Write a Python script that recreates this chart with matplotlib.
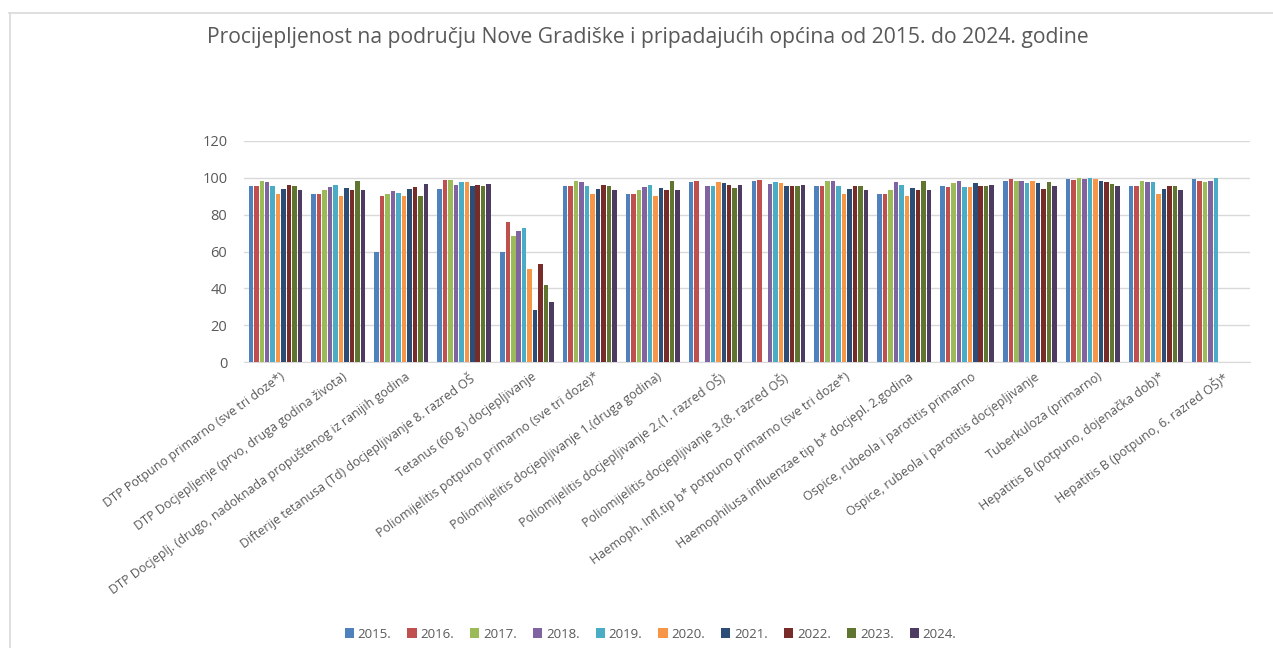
import numpy as np
import matplotlib.pyplot as plt
from matplotlib.lines import Line2D

plt.rcParams['font.family'] = ['Open Sans', 'DejaVu Sans']

title = "Procijepljenost na području Nove Gradiške i pripadajućih općina od 2015. do 2024. godine"

categories = [
    "DTP Potpuno primarno (sve tri doze*)",
    "DTP Docjepljenje (prvo, druga godina života)",
    "DTP Docjeplj. (drugo, nadoknada propuštenog iz ranijih godina",
    "Difterije tetanusa (Td) docjepljivanje 8. razred OŠ",
    "Tetanus (60 g.) docjepljivanje",
    "Poliomijelitis potpuno primarno (sve tri doze)*",
    "Poliomijelitis docjepljivanje 1.(druga godina)",
    "Poliomijelitis docjepljivanje 2.(1. razred OŠ)",
    "Poliomijelitis docjepljivanje 3.(8. razred OŠ)",
    "Haemoph. Infl.tip b* potpuno primarno (sve tri doze*)",
    "Haemophilusa influenzae tip b* docjepl. 2.godina",
    "Ospice, rubeola i parotitis primarno",
    "Ospice, rubeola i parotitis docjepljivanje",
    "Tuberkuloza (primarno)",
    "Hepatitis B (potpuno, dojenačka dob)*",
    "Hepatitis B (potpuno, 6. razred OŠ)*",
]

years = ["2015.", "2016.", "2017.", "2018.", "2019.",
         "2020.", "2021.", "2022.", "2023.", "2024."]

nan = np.nan
# one list per category, values for 2015..2024
v_dtp_prim = [95.3, 95.3, 98.4, 97.5, 95.3, 91.2, 94.1, 95.9, 95.3, 93.2]
v_dtp_doc1 = [91.2, 91.2, 93.5, 95.0, 96.0, 90.1, 94.6, 93.5, 98.4, 93.2]
v_dtp_doc2 = [59.8, 90.1, 91.2, 92.8, 91.5, 90.1, 93.9, 95.0, 90.3, 96.8]
v_td = [94.2, 98.7, 98.7, 96.0, 97.5, 97.5, 95.7, 96.0, 95.3, 96.4]
v_tetanus = [59.8, 75.9, 68.3, 71.4, 72.6, 50.3, 28.5, 53.2, 42.0, 32.6]
v_polio_prim = [95.3, 95.3, 98.4, 97.5, 95.3, 91.2, 94.1, 95.9, 95.3, 93.2]
v_polio_doc1 = [91.2, 91.2, 93.5, 95.0, 96.0, 90.1, 94.6, 93.5, 98.4, 93.2]
v_polio_doc2 = [97.5, 98.4, nan, 95.7, 95.7, 97.5, 97.1, 96.0, 94.6, 96.0]
v_polio_doc3 = [98.4, 98.9, nan, 96.4, 97.5, 97.1, 95.7, 95.7, 95.3, 96.0]
v_hib_prim = [95.3, 95.3, 98.4, 98.4, 95.3, 91.2, 93.9, 95.7, 95.3, 93.2]
v_hib_doc = [91.2, 91.2, 93.5, 97.5, 96.0, 90.1, 94.6, 93.5, 98.4, 93.2]
v_mrp_prim = [95.3, 94.8, 97.1, 98.4, 94.8, 94.8, 97.1, 95.7, 95.3, 96.0]
v_mrp_doc = [98.2, 99.1, 98.2, 98.4, 97.1, 98.4, 97.1, 93.9, 97.5, 95.7]
v_tbc = [99.1, 98.7, 99.8, 99.5, 100.0, 99.5, 98.2, 97.5, 96.8, 95.7]
v_hepb_doj = [95.3, 95.3, 98.4, 97.5, 97.5, 91.2, 93.9, 95.7, 95.3, 93.2]
v_hepb_6 = [99.5, 98.4, 97.7, 98.4, 100.0, nan, nan, nan, nan, nan]

colors = ["#4F81BD", "#C0504D", "#9BBB59", "#8064A2", "#4BACC6",
          "#F79646", "#2C4D75", "#772C2A", "#5F7530", "#4D3B62"]

data = np.array([v_dtp_prim, v_dtp_doc1, v_dtp_doc2, v_td, v_tetanus,
                 v_polio_prim, v_polio_doc1, v_polio_doc2, v_polio_doc3,
                 v_hib_prim, v_hib_doc, v_mrp_prim, v_mrp_doc, v_tbc,
                 v_hepb_doj, v_hepb_6])

fig = plt.figure(figsize=(12.73, 6.48), dpi=100)
ax = fig.add_axes([244 / 1273, 1 - 362 / 648, (1250 - 244) / 1273, (362 - 141) / 648])

x = np.arange(len(categories))
slot = 0.087
for i, year in enumerate(years):
    ax.bar(x + (i - 4.5) * slot, data[:, i], width=slot * 0.82,
           color=colors[i], label=year, zorder=3)

ax.set_xlim(-0.5, len(categories) - 0.5)
ax.set_ylim(0, 120)
ax.set_yticks(range(0, 121, 20))
ax.yaxis.grid(True, color="#d9d9d9", linewidth=1.0, zorder=0)
for s in ["top", "right", "left"]:
    ax.spines[s].set_visible(False)
ax.spines["bottom"].set_color("#d9d9d9")
ax.tick_params(axis="both", length=0, colors="#595959")
ax.tick_params(axis="y", labelsize=10.5, pad=12)
ax.set_xticks(x + 0.06)
ax.set_xticklabels(categories, rotation=36, ha="right", rotation_mode="anchor",
                   fontsize=9.0, color="#595959")
ax.tick_params(axis="x", pad=6)

fig.text(0.509, 1 - 38 / 648, title, ha="center", va="center",
         fontsize=15.2, color="#595959")

leg = fig.legend(loc="center", bbox_to_anchor=(0.511, 1 - 634 / 648), ncol=10,
                 frameon=False, fontsize=9.5, handlelength=0.7, handleheight=0.7,
                 handletextpad=0.3, columnspacing=1.2)
for t in leg.get_texts():
    t.set_color("#595959")

# outer chart frame (partly cropped in the reference)
fig.add_artist(Line2D([9 / 1273, 1], [1 - 13 / 648] * 2, color="#d9d9d9", linewidth=1.2))
fig.add_artist(Line2D([10 / 1273] * 2, [0, 1 - 13 / 648], color="#d9d9d9", linewidth=1.2))

fig.savefig("out.png", dpi=100, facecolor="white")
